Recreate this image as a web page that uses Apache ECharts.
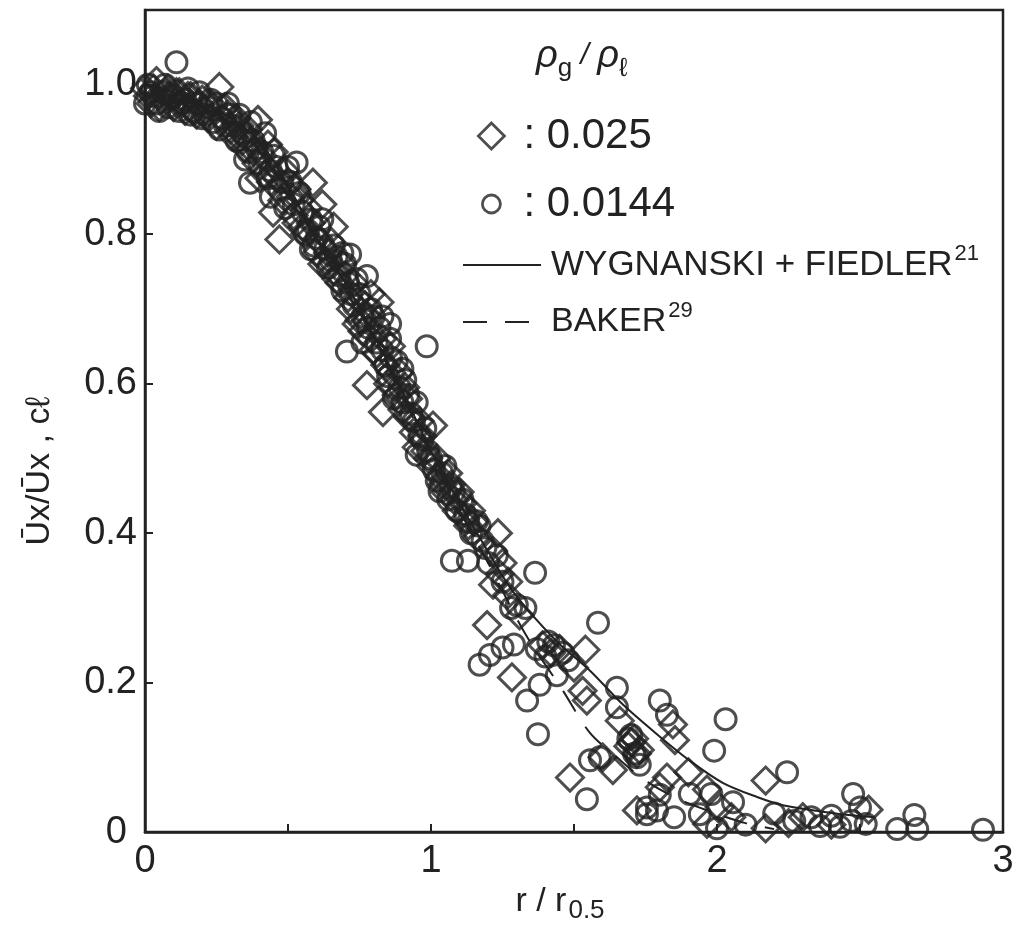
<!DOCTYPE html>
<html>
<head>
<meta charset="utf-8">
<script src="https://cdn.jsdelivr.net/npm/echarts@6/dist/echarts.min.js"></script>
<style>
html, body { margin: 0; padding: 0; background: #fff; }
#main { width: 1024px; height: 929px; }
</style>
</head>
<body>
<div id="main"></div>
<script>
// rho_g / rho_l = 0.025 (diamonds)
var diamondPts = [
	[0.00,0.995],[0.02,0.975],[0.04,1.005],[0.06,0.98],[0.08,0.995],[0.10,0.97],[0.12,0.99],[0.14,0.965],
	[0.16,0.985],[0.18,0.96],[0.20,0.98],[0.22,0.955],[0.26,0.997],[0.25,0.945],[0.28,0.97],[0.30,0.94],
	[0.32,0.955],[0.34,0.925],[0.36,0.94],[0.38,0.91],[0.395,0.953],[0.41,0.905],[0.43,0.92],[0.448,0.829],
	[0.46,0.875],[0.47,0.793],[0.49,0.885],[0.51,0.85],[0.53,0.86],[0.55,0.81],[0.57,0.835],[0.587,0.869],
	[0.60,0.775],[0.62,0.84],[0.63,0.765],[0.65,0.79],[0.67,0.74],[0.69,0.76],[0.71,0.715],[0.73,0.735],
	[0.75,0.685],[0.776,0.598],[0.77,0.705],[0.79,0.66],[0.82,0.709],[0.81,0.64],[0.832,0.562],[0.84,0.625],
	[0.86,0.65],[0.87,0.595],[0.89,0.615],[0.90,0.565],[0.92,0.58],[0.94,0.535],[0.96,0.55],[0.98,0.51],
	[1.007,0.544],[1.00,0.49],[1.02,0.50],[1.04,0.465],[1.06,0.48],[1.08,0.445],[1.10,0.455],[1.12,0.42],
	[1.14,0.43],[1.16,0.395],[1.234,0.40],[1.217,0.376],[1.217,0.331],[1.196,0.277],[1.24,0.345],[1.266,0.317],
	[0.01,0.985],[0.03,0.995],[0.05,0.97],[0.07,0.99],[0.09,0.985],[0.11,0.99],[0.13,0.975],[0.15,0.985],
	[0.17,0.965],[0.19,0.975],[0.21,0.965],[0.23,0.975],[0.27,0.955],[0.29,0.96],[0.31,0.93],[0.33,0.945],
	[0.35,0.915],[0.37,0.925],[0.39,0.895],[0.42,0.88],[0.44,0.87],[0.45,0.91],[0.48,0.845],[0.50,0.87],
	[0.52,0.825],[0.54,0.845],[0.56,0.80],[0.58,0.815],[0.61,0.79],[0.64,0.775],[0.66,0.75],[0.68,0.735],
	[0.70,0.745],[0.72,0.70],[0.74,0.715],[0.76,0.67],[0.78,0.69],[0.80,0.645],[0.83,0.66],[0.85,0.60],
	[0.88,0.585],[0.91,0.595],[0.93,0.555],[0.95,0.515],[0.97,0.53],[0.99,0.50],[1.03,0.475],[1.05,0.455],
	[1.07,0.465],[1.09,0.43],[1.11,0.44],[1.13,0.41],[1.15,0.415],[1.25,0.36],[1.27,0.335],[1.31,0.29],
	[0.40,0.875],[0.53,0.815],[0.62,0.76],[0.66,0.81],[0.74,0.68],[0.79,0.72],[0.86,0.615],[0.92,0.555],
	[1.283,0.207],
	[1.39,0.25],[1.42,0.24],[1.45,0.245],[1.54,0.244],[1.53,0.189],[1.545,0.176],[1.50,0.22],[1.66,0.149],
	[1.486,0.073],[1.636,0.083],[1.60,0.10],[1.72,0.029],[1.70,0.12],[1.73,0.11],[1.69,0.115],[1.71,0.125],
	[1.72,0.105],[1.846,0.144],[1.853,0.123],[1.825,0.073],[1.965,0.057],[2.01,0.033],[1.965,0.011],[1.80,0.06],
	[2.17,0.069],[2.17,0.005],[2.30,0.02],[2.40,0.01],[2.25,0.012],[2.53,0.03],[1.90,0.08],[2.05,0.02]
];

// rho_g / rho_l = 0.0144 (circles)
var circlePts = [
	[0.00,0.975],[0.01,1.0],[0.03,0.985],[0.05,0.965],[0.07,1.0],[0.09,0.98],[0.11,1.03],[0.13,0.975],
	[0.15,0.995],[0.17,0.965],[0.19,0.99],[0.21,0.96],[0.23,0.98],[0.24,0.95],[0.27,0.955],[0.29,0.975],
	[0.31,0.945],[0.33,0.96],[0.35,0.93],[0.367,0.869],[0.37,0.95],[0.39,0.915],[0.42,0.935],[0.44,0.885],
	[0.45,0.905],[0.48,0.87],[0.50,0.89],[0.52,0.84],[0.53,0.896],[0.54,0.855],[0.56,0.80],[0.58,0.82],
	[0.59,0.785],[0.61,0.81],[0.64,0.755],[0.66,0.785],[0.68,0.745],[0.70,0.76],[0.706,0.643],[0.717,0.773],
	[0.72,0.72],[0.74,0.74],[0.76,0.69],[0.776,0.744],[0.78,0.675],[0.80,0.69],[0.83,0.645],[0.857,0.68],
	[0.857,0.66],[0.85,0.61],[0.88,0.63],[0.91,0.605],[0.90,0.575],[0.93,0.56],[0.95,0.575],[0.97,0.525],
	[0.985,0.65],[0.99,0.51],[1.01,0.485],[1.03,0.456],[1.05,0.49],[1.07,0.46],[1.09,0.43],[1.11,0.445],
	[1.13,0.415],[1.16,0.416],[1.18,0.39],[1.073,0.363],[1.129,0.363],[1.20,0.36],[1.25,0.335],[1.30,0.304],
	[0.02,0.99],[0.04,0.975],[0.06,0.99],[0.08,0.97],[0.10,0.985],[0.12,0.965],[0.14,0.98],[0.16,0.96],
	[0.18,0.975],[0.20,0.955],[0.22,0.97],[0.25,0.975],[0.26,0.94],[0.28,0.945],[0.30,0.96],[0.32,0.925],
	[0.34,0.935],[0.36,0.91],[0.38,0.925],[0.40,0.895],[0.41,0.91],[0.43,0.875],[0.46,0.89],[0.47,0.86],
	[0.49,0.835],[0.51,0.87],[0.55,0.83],[0.57,0.805],[0.60,0.795],[0.62,0.82],[0.63,0.78],[0.65,0.765],
	[0.67,0.77],[0.69,0.725],[0.71,0.735],[0.73,0.705],[0.75,0.72],[0.77,0.685],[0.79,0.70],[0.81,0.655],
	[0.82,0.675],[0.84,0.625],[0.86,0.635],[0.87,0.58],[0.89,0.595],[0.92,0.585],[0.94,0.55],[0.96,0.53],
	[0.98,0.54],[1.00,0.50],[1.02,0.47],[1.04,0.48],[1.06,0.445],[1.08,0.455],[1.12,0.425],[1.14,0.40],
	[1.17,0.41],[1.19,0.38],[1.23,0.37],[1.28,0.30],
	[0.35,0.90],[0.44,0.85],[0.58,0.78],[0.69,0.775],[0.76,0.655],[0.83,0.69],[0.90,0.62],[0.95,0.505],
	[1.364,0.347],[1.33,0.30],
	[1.17,0.224],[1.206,0.237],[1.25,0.247],[1.29,0.251],[1.37,0.245],[1.40,0.235],[1.41,0.255],[1.43,0.25],
	[1.46,0.24],[1.48,0.23],[1.584,0.28],[1.38,0.197],[1.336,0.176],[1.374,0.131],[1.44,0.21],[1.65,0.193],
	[1.65,0.167],[1.80,0.176],[1.825,0.157],[1.69,0.125],[1.70,0.13],[1.71,0.105],[1.72,0.10],[1.73,0.09],
	[1.556,0.096],[1.59,0.10],[1.545,0.044],[1.755,0.024],[1.79,0.029],[1.755,0.033],[1.80,0.05],[1.905,0.051],
	[1.98,0.051],[2.056,0.04],[1.94,0.024],[2.03,0.151],[1.99,0.109],[2.245,0.08],[2.20,0.025],[2.27,0.015],
	[2.33,0.02],[2.36,0.008],[2.40,0.022],[2.43,0.007],[2.47,0.015],[2.476,0.051],[2.50,0.033],[2.52,0.011],
	[2.63,0.004],[2.69,0.023],[2.70,0.004],[2.93,0.003],[2.00,0.005],[2.10,0.01],[1.85,0.02]
];

// Wygnanski + Fiedler profile (solid)
var wfLine = [
	[0,1.0],[0.1,0.99],[0.2,0.975],[0.3,0.955],[0.4,0.925],[0.5,0.865],[0.6,0.795],[0.7,0.735],[0.8,0.665],
	[0.9,0.59],[1.0,0.51],[1.1,0.44],[1.2,0.375],[1.29,0.32],[1.44,0.255],[1.556,0.216],[1.67,0.171],
	[1.79,0.131],[1.9,0.097],[2.02,0.066],[2.14,0.047],[2.23,0.036],[2.34,0.029],[2.43,0.024],[2.55,0.02]
];

// Baker profile (dashed)
var bakerLine = [
	[0,1.0],[0.2,0.97],[0.4,0.92],[0.6,0.79],[0.8,0.66],[1.0,0.505],[1.1,0.43],[1.2,0.36],[1.33,0.265],
	[1.46,0.19],[1.555,0.133],[1.65,0.1],[1.745,0.07],[1.86,0.045],[1.98,0.027],[2.1,0.012],[2.2,0.004]
];

var xTicks = [0, 1, 2, 3];
var yTicks = ['0', '0.2', '0.4', '0.6', '0.8', '1.0'];

var ink = '#222';
var font = 'Liberation Sans';

var myChart = echarts.init(document.getElementById('main'));
var option = {
	backgroundColor: '#fff',
	animation: false,
	textStyle: { fontFamily: font, color: ink },
	title: {
		text: '{r|ρ}{s|g}{sl| / }{r|ρ}{s|ℓ}',
		left: 536,
		top: 30,
		padding: 0,
		textStyle: {
			fontWeight: 'normal',
			rich: {
				r: { fontSize: 38, fontStyle: 'italic', fontWeight: 'normal', fontFamily: font, color: ink },
				s: { fontSize: 26, fontWeight: 'normal', fontFamily: font, color: ink, padding: [26, 0, 0, 0] },
				sl: { fontSize: 30, fontStyle: 'italic', fontWeight: 'normal', fontFamily: font, color: ink }
			}
		}
	},
	legend: [
		{
			data: ['0.025'], left: 477, top: 115, padding: 0, selectedMode: false,
			itemWidth: 26, itemHeight: 26, formatter: ': {name}',
			itemStyle: { borderWidth: 2.8 },
			textStyle: { fontSize: 42, lineHeight: 26, color: ink, fontFamily: font, padding: [0, 0, 0, 14] }
		},
		{
			data: ['0.0144'], left: 481, top: 183, padding: 0, selectedMode: false,
			itemWidth: 18, itemHeight: 18, formatter: ': {name}',
			itemStyle: { borderWidth: 2.8 },
			textStyle: { fontSize: 42, lineHeight: 18, color: ink, fontFamily: font, padding: [0, 0, 0, 18] }
		},
		{
			data: ['WYGNANSKI + FIEDLER'], left: 462, top: 243, padding: 0, selectedMode: false,
			itemWidth: 78, itemHeight: 44, formatter: '{name}{sup|21}',
			itemStyle: { opacity: 0 },
			textStyle: {
				fontSize: 35, lineHeight: 40, color: ink, fontFamily: font, padding: [0, 0, 0, 5],
				rich: { sup: { fontSize: 22, color: ink, fontFamily: font, padding: [0, 0, 22, 2] } }
			}
		},
		{
			data: ['BAKER'], left: 462, top: 300, padding: 0, selectedMode: false,
			itemWidth: 78, itemHeight: 44, formatter: '{name}{sup|29}',
			itemStyle: { opacity: 0 },
			textStyle: {
				fontSize: 34, lineHeight: 40, color: ink, fontFamily: font, padding: [0, 0, 0, 5],
				rich: { sup: { fontSize: 22, color: ink, fontFamily: font, padding: [0, 0, 22, 2] } }
			}
		}
	],
	grid: {
		left: 145,
		right: 21,
		top: 10,
		bottom: 94,
		show: true,
		borderColor: ink,
		borderWidth: 2.5,
		backgroundColor: 'transparent'
	},
	xAxis: {
		type: 'value',
		min: 0,
		max: 3,
		interval: 0.5,
		name: 'r / r{sub|0.5}',
		nameLocation: 'middle',
		nameGap: 44,
		nameTextStyle: {
			fontSize: 34, color: ink, fontFamily: font, padding: [0, 28, 0, 0],
			rich: { sub: { fontSize: 26, color: ink, fontFamily: font, padding: [18, 0, 0, 2] } }
		},
		axisLine: { lineStyle: { color: ink, width: 2.5 } },
		axisTick: { inside: true, length: 8, lineStyle: { color: ink, width: 2 } },
		splitLine: { show: false },
		axisLabel: {
			fontSize: 38, color: ink, fontFamily: font, margin: 10,
			formatter: function (v) {
				return xTicks.indexOf(v) >= 0 ? String(v) : '';
			}
		}
	},
	yAxis: {
		type: 'value',
		min: 0,
		max: 1.1,
		interval: 0.2,
		name: 'Ūx/Ūx , cℓ',
		nameLocation: 'middle',
		nameRotate: 90,
		nameGap: 88,
		nameTextStyle: { fontSize: 34, color: ink, fontFamily: font, padding: [0, 100, 0, 0] },
		axisLine: { lineStyle: { color: ink, width: 2.5 } },
		axisTick: { inside: true, length: 8, lineStyle: { color: ink, width: 2 } },
		splitLine: { show: false },
		axisLabel: {
			fontSize: 38, color: ink, fontFamily: font, margin: 8, showMaxLabel: false,
			formatter: function (v) {
				var s = v === 0 ? '0' : v.toFixed(1);
				if (yTicks.indexOf(s) < 0) return '';
				return v === 0 ? '{z|0}' : s;
			},
			rich: { z: { fontSize: 38, color: ink, fontFamily: font, padding: [0, 10, 0, 0] } }
		}
	},
	series: [
		{
			name: 'WYGNANSKI + FIEDLER',
			type: 'line',
			data: wfLine,
			smooth: 0.3,
			symbol: 'none',
			lineStyle: { color: ink, width: 2 },
			itemStyle: { color: ink },
			z: 1
		},
		{
			name: 'BAKER',
			type: 'line',
			data: bakerLine,
			smooth: 0.3,
			symbol: 'none',
			lineStyle: { color: ink, width: 2, type: [24, 18] },
			itemStyle: { color: ink },
			z: 1
		},
		{
			name: '0.025',
			type: 'scatter',
			data: diamondPts,
			symbol: 'diamond',
			symbolSize: 27,
			itemStyle: { color: 'rgba(0,0,0,0)', borderColor: ink, borderWidth: 3 },
			emphasis: { disabled: true },
			z: 3
		},
		{
			name: '0.0144',
			type: 'scatter',
			data: circlePts,
			symbol: 'circle',
			symbolSize: 21,
			itemStyle: { color: 'rgba(0,0,0,0)', borderColor: ink, borderWidth: 3 },
			emphasis: { disabled: true },
			z: 3
		}
	]
};
myChart.setOption(option);
</script>
</body>
</html>
